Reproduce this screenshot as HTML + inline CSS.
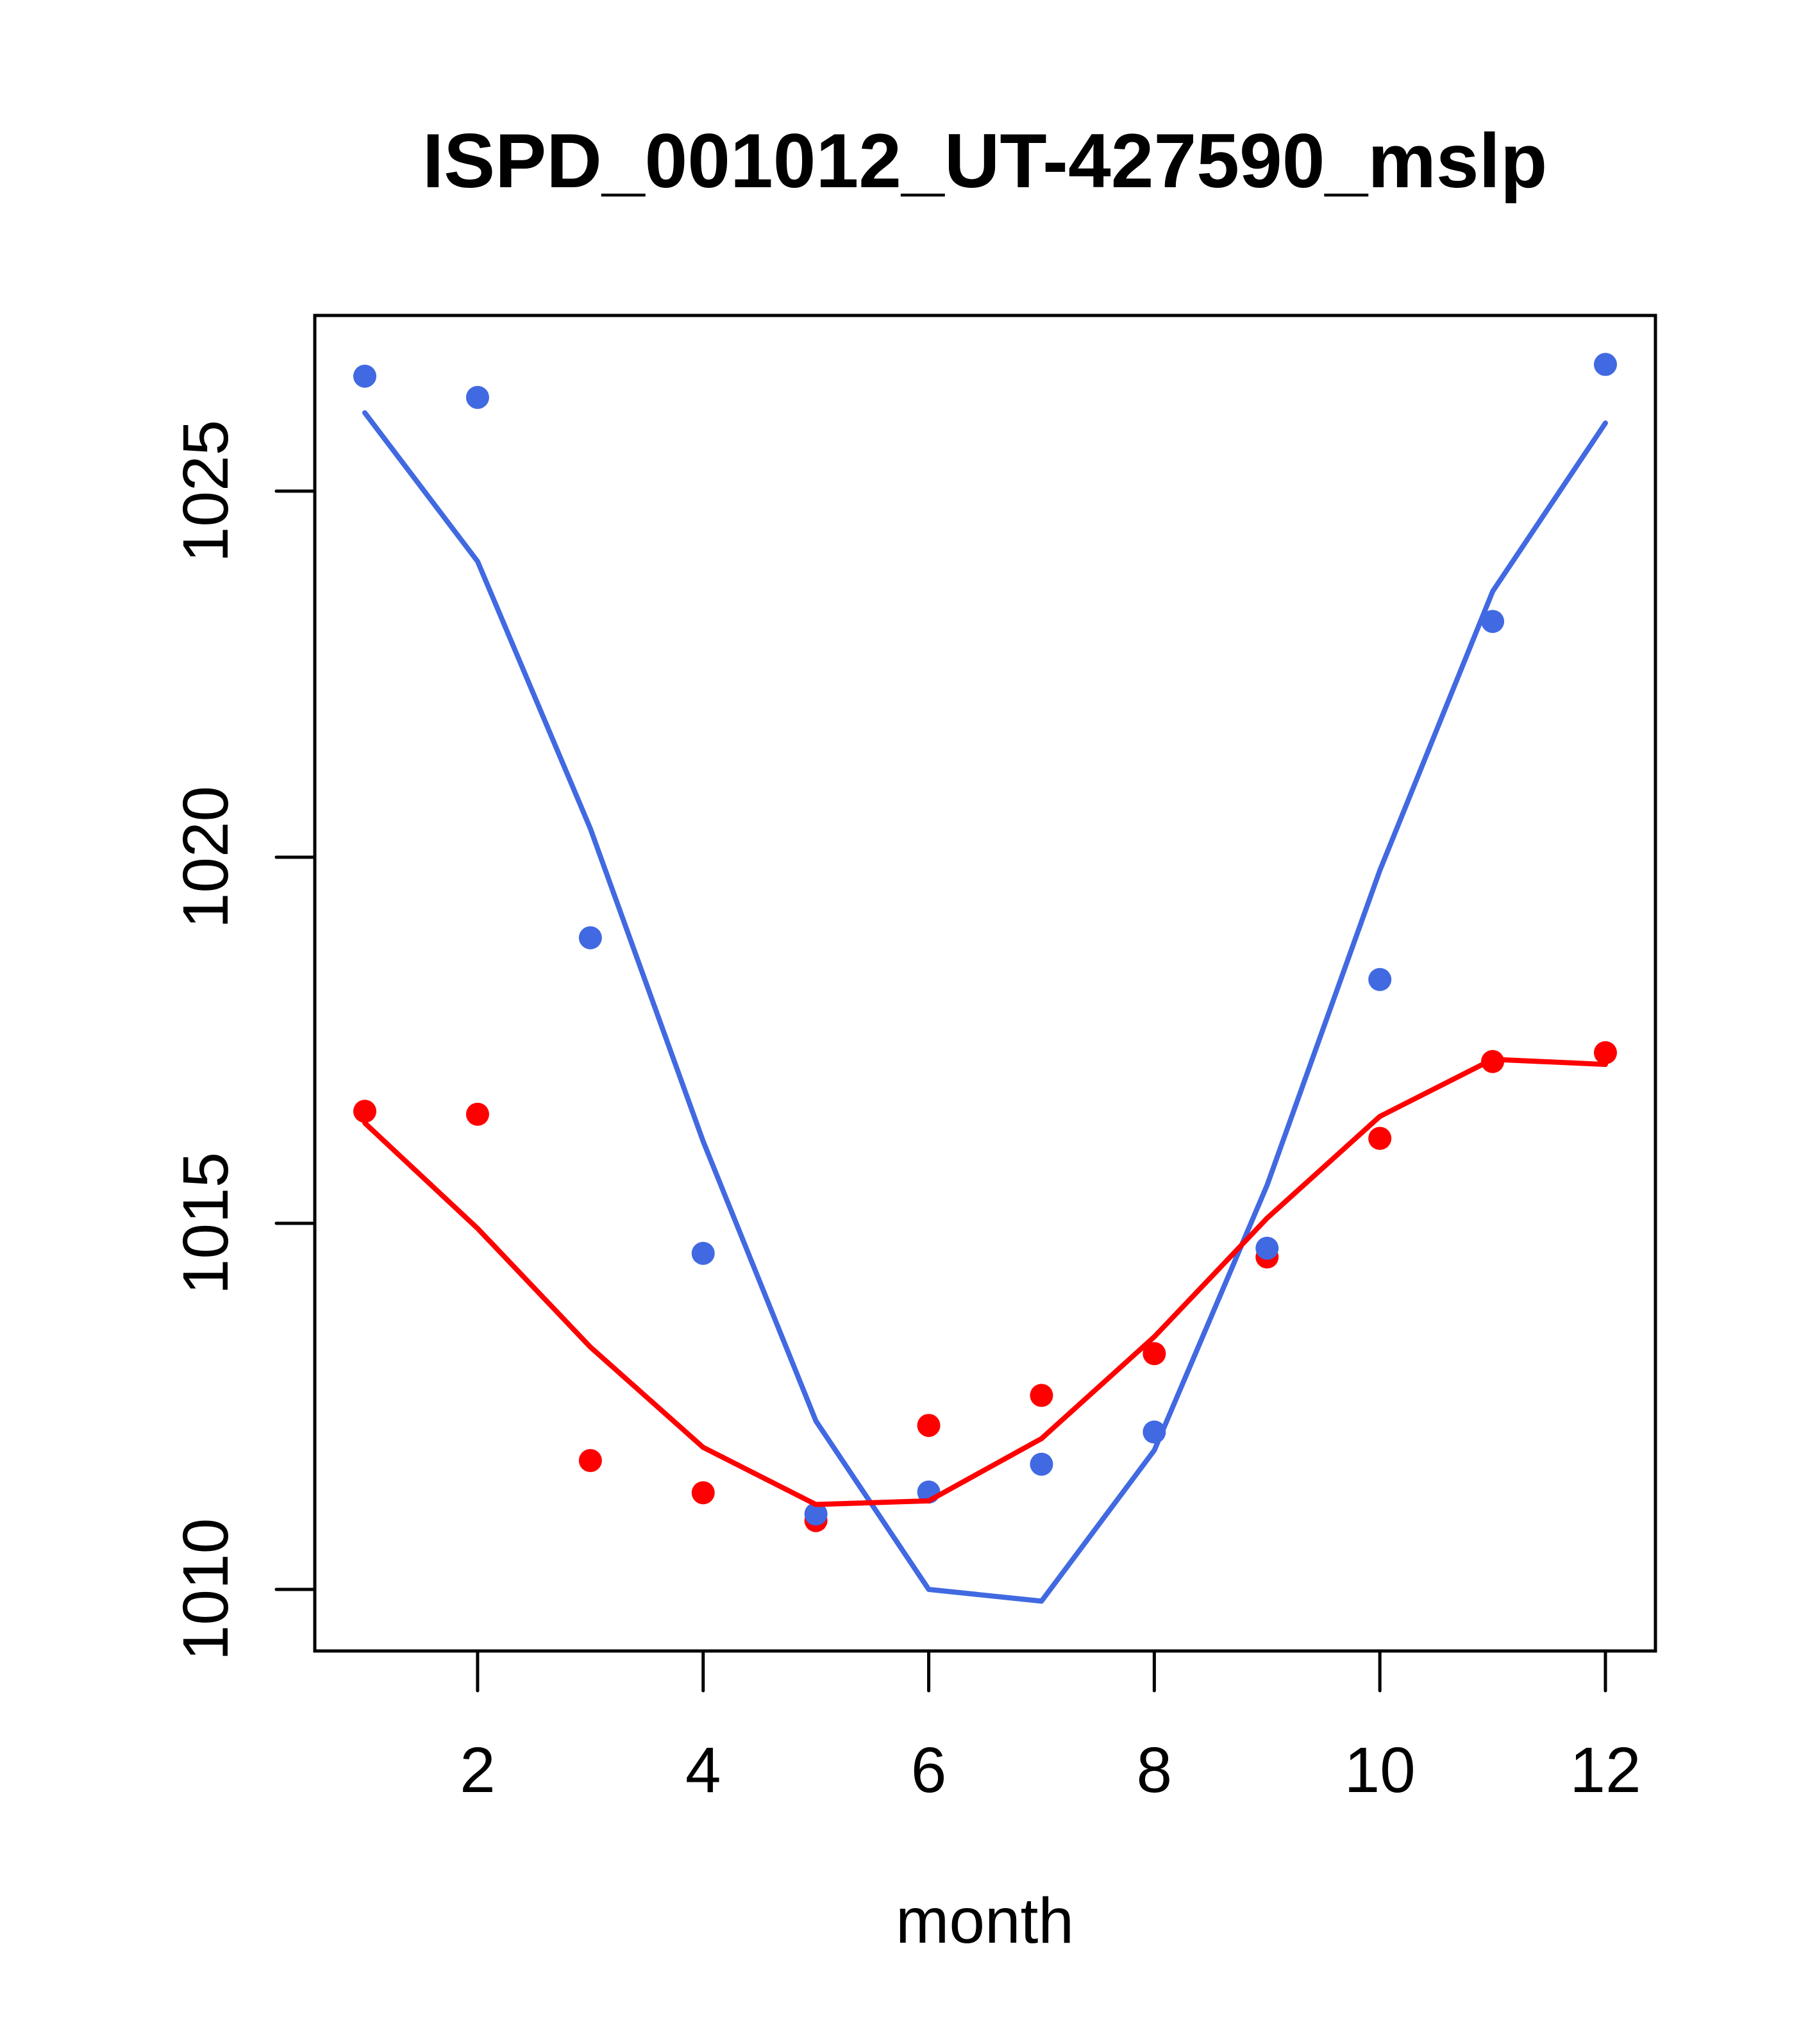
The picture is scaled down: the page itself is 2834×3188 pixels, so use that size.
<!DOCTYPE html>
<html><head><meta charset="utf-8"><style>html,body{margin:0;padding:0;background:#fff}svg{display:block}</style></head>
<body>
<svg id="chart" width="2834" height="3188" viewBox="0 0 2834 3188" xmlns="http://www.w3.org/2000/svg" font-family="'Liberation Sans', Arial, sans-serif">
<text x="1536" y="292" font-size="120" font-weight="bold" text-anchor="middle">ISPD_001012_UT-427590_mslp</text>
<rect x="491" y="492" width="2091" height="2083" fill="none" stroke="#000" stroke-width="5"/>
<g id="xaxis"></g>
<g id="yaxis"></g>
<text x="1536" y="3030" font-size="100" text-anchor="middle">month</text>
<g id="series"></g>
</svg>
<script>
const months=[1,2,3,4,5,6,7,8,9,10,11,12];
const xTicks=[2,4,6,8,10,12];
const yTicks=[1010,1015,1020,1025];
const bluePoints=[1026.57,1026.28,1018.90,1014.59,1011.03,1011.33,1011.71,1012.15,1014.66,1018.33,1023.22,1026.73];
const blueLine=[1026.07,1024.04,1020.39,1016.12,1012.30,1010.00,1009.84,1011.90,1015.52,1019.82,1023.63,1025.93];
const redPoints=[1016.53,1016.49,1011.76,1011.32,1010.94,1012.24,1012.65,1013.22,1014.54,1016.16,1017.21,1017.33];
const redLine=[1016.37,1014.93,1013.31,1011.94,1011.16,1011.21,1012.06,1013.45,1015.07,1016.46,1017.24,1017.17];

const NS="http://www.w3.org/2000/svg";
function xs(v){return 569+(v-1)*(2504-569)/11;}
function ys(v){return 766+(1025-v)*(2479-766)/15;}
function mk(tag,attrs,parent){const e=document.createElementNS(NS,tag);for(const k in attrs)e.setAttribute(k,attrs[k]);parent.appendChild(e);return e;}
const xa=document.getElementById('xaxis'),ya=document.getElementById('yaxis'),sg=document.getElementById('series');
xTicks.forEach(t=>{
  const l=mk('line',{x1:xs(t),x2:xs(t),y1:2575,y2:2637,stroke:'#000','stroke-width':5,'stroke-linecap':'round'},xa);
  
  
  const tx=mk('text',{x:xs(t),y:2795,'font-size':100,'text-anchor':'middle'},xa);
  tx.textContent=t;
  
  
});
yTicks.forEach(t=>{
  const l=mk('line',{x1:431,x2:491,y1:ys(t),y2:ys(t),stroke:'#000','stroke-width':5,'stroke-linecap':'round'},ya);
  
  
  const tx=mk('text',{x:0,y:0,'font-size':100,'text-anchor':'middle',transform:'translate(355,'+ys(t)+') rotate(-90)'},ya);
  tx.textContent=t;
  
  
});
function line(vals,color,name){
  const p=mk('polyline',{points:vals.map((v,i)=>xs(months[i])+','+ys(v)).join(' '),fill:'none',stroke:color,'stroke-width':8,'stroke-linecap':'round','stroke-linejoin':'round'},sg);
  
  
}
function pts(vals,color,name){
  vals.forEach((v,i)=>{
    const c=mk('circle',{cx:xs(months[i]),cy:ys(v),r:18,fill:color},sg);
    
    
  });
}
pts(redPoints,'#ff0000','red-point');
pts(bluePoints,'#4169e1','blue-point');
line(blueLine,'#4169e1','blue-line');
line(redLine,'#ff0000','red-line');
</script>
</body></html>
